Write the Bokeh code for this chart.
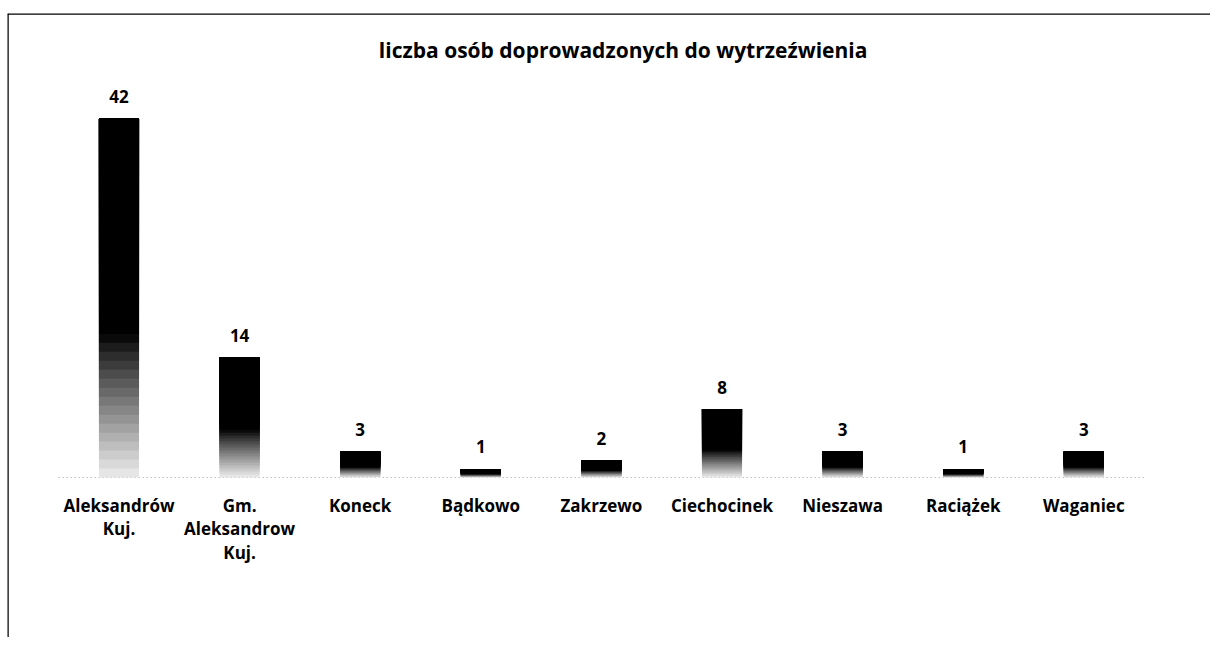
import numpy as np
from bokeh.plotting import figure
from bokeh.models import Range1d, Span, ColumnDataSource
from bokeh.core.properties import value
from bokeh.embed import file_html
from bokeh.resources import INLINE

# ---- data ----
categories = ["Aleksandrów\nKuj.", "Gm.\nAleksandrow\nKuj.", "Koneck", "Bądkowo",
              "Zakrzewo", "Ciechocinek", "Nieszawa", "Raciążek", "Waganiec"]
counts = [42, 14, 3, 1, 2, 8, 3, 1, 3]
title_text = "liczba osób doprowadzonych do wytrzeźwienia"

FONT = "Open Sans"

n = len(categories)
xs = np.arange(n)

x_start, x_end = -0.9245, 9.0506
y_start, y_end = -18.71, 54.27

p = figure(width=1210, height=637, output_backend="svg", toolbar_location=None,
           x_range=Range1d(x_start, x_end), y_range=Range1d(y_start, y_end),
           x_axis_location=None, y_axis_location=None,
           min_border_left=7, min_border_right=0, min_border_top=13, min_border_bottom=0)
p.grid.visible = False
p.outline_line_color = None
p.background_fill_color = "white"
p.border_fill_color = "white"

# border (left and top only visible in reference)
p.add_layout(Span(location=x_start, dimension="height", line_color="black", line_width=2.5))
p.add_layout(Span(location=y_end, dimension="width", line_color="black", line_width=2.5))

# dotted baseline
p.line([-0.5, n - 0.5], [0, 0], line_color="#a0a0a0", line_dash="1 3", line_width=1)

# gradient bars built from overlapping slices
N = 40
bx, bb, bt, bc = [], [], [], []
for i, v in enumerate(counts):
    for k in range(N):
        f0, f1 = k / N, (k + 1) / N
        fm = (f0 + f1) / 2
        if fm >= 0.40:
            L = 0.0
        else:
            L = 0.93 * (1 - fm / 0.40) ** 0.9
        g = int(round(L * 255))
        bx.append(i)
        bb.append(v * f0)
        bt.append(v)
        bc.append("#%02x%02x%02x" % (g, g, g))
src = ColumnDataSource(dict(x=bx, bottom=bb, top=bt, color=bc))
p.vbar(x="x", bottom="bottom", top="top", width=0.332, fill_color="color",
       line_color=None, source=src)

# value labels
p.text(x=xs, y=counts, text=[str(c) for c in counts], y_offset=-22,
       text_align="center", text_baseline="alphabetic", text_font=value(FONT),
       text_font_style="bold", text_font_size="17px", text_color="black")

# category labels
p.text(x=xs, y=[-1.9] * n, text=categories, text_align="center", text_baseline="top",
       text_font=value(FONT), text_font_style="bold", text_font_size="17px",
       text_color="black", text_line_height=1.02)

# title
p.text(x=[4.18], y=[49.95], text=[title_text], text_align="center",
       text_baseline="alphabetic", text_font=value(FONT), text_font_style="bold",
       text_font_size="21px", text_color="black")

open("out.html", "w").write(file_html(p, INLINE))
